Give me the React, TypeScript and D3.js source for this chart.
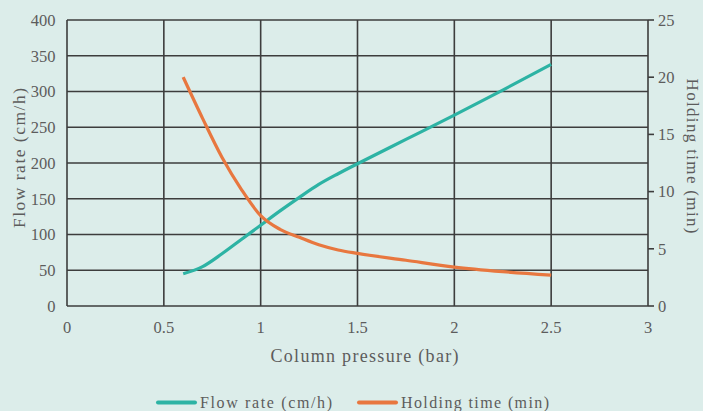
import React from "react";
import * as d3 from "d3";

// Column pressure (bar) at which each measurement was taken
const pressure = [0.6, 0.7, 0.8, 0.9, 1.0, 1.1, 1.2, 1.3, 1.4, 1.5, 1.75, 2.0, 2.25, 2.5];
// Flow rate (cm/h)
const flowRate = [45, 55, 73, 93, 113, 133, 152, 170, 185, 199, 233, 267, 302, 338];
// Holding time (min)
const holdingTime = [20, 16.4, 13, 10.2, 7.9, 6.7, 6.0, 5.35, 4.9, 4.6, 4.0, 3.4, 3.0, 2.7];

const xTicks = [0, 0.5, 1, 1.5, 2, 2.5, 3];
const leftTicks = [0, 50, 100, 150, 200, 250, 300, 350, 400];
const rightTicks = [0, 5, 10, 15, 20, 25];

const W = 703;
const H = 411;
const M = { left: 67, right: 648, top: 20, bottom: 306 };

const BG = "#dcedea";
const GRID = "#3d3d3d";
const TEXT = "#5c5c5c";
const TEAL = "#2db3a4";
const ORANGE = "#e8773f";
const NUM_FONT = "Liberation Serif";
const LABEL_FONT = "Liberation Serif";

export default function App() {
  const x = d3.scaleLinear().domain([0, 3]).range([M.left, M.right]);
  const yL = d3.scaleLinear().domain([0, 400]).range([M.bottom, M.top]);
  const yR = d3.scaleLinear().domain([0, 25]).range([M.bottom, M.top]);

  const flowLine = d3
    .line<number>()
    .x((_, i) => x(pressure[i]))
    .y((d) => yL(d))
    .curve(d3.curveMonotoneX);
  const holdLine = d3
    .line<number>()
    .x((_, i) => x(pressure[i]))
    .y((d) => yR(d))
    .curve(d3.curveMonotoneX);

  return (
    <svg
      width={W}
      height={H}
      style={{ position: "absolute", left: 0, top: 0, display: "block" }}
    >
      <rect x={0} y={0} width={W} height={H} fill={BG} />

      {/* horizontal grid */}
      {leftTicks.map((t) => (
        <line
          key={"h" + t}
          x1={M.left}
          x2={M.right}
          y1={yL(t)}
          y2={yL(t)}
          stroke={GRID}
          strokeWidth={1.6}
        />
      ))}
      {/* vertical grid */}
      {xTicks.map((t) => (
        <line
          key={"v" + t}
          x1={x(t)}
          x2={x(t)}
          y1={M.top}
          y2={M.bottom}
          stroke={GRID}
          strokeWidth={1.6}
        />
      ))}
      {/* right axis tick marks */}
      {rightTicks.map((t) => (
        <line
          key={"rt" + t}
          x1={M.right}
          x2={M.right + 6}
          y1={yR(t)}
          y2={yR(t)}
          stroke={GRID}
          strokeWidth={1.6}
        />
      ))}

      {/* left tick labels */}
      {leftTicks.map((t) => (
        <text
          key={"lt" + t}
          x={55.5}
          y={yL(t)}
          dy="0.35em"
          textAnchor="end"
          style={{ fontFamily: NUM_FONT }}
          fontSize={16.5}
          fill={TEXT}
        >
          {t}
        </text>
      ))}
      {/* right tick labels */}
      {rightTicks.map((t) => (
        <text
          key={"rl" + t}
          x={658}
          y={yR(t)}
          dy="0.35em"
          textAnchor="start"
          style={{ fontFamily: NUM_FONT }}
          fontSize={16.5}
          fill={TEXT}
        >
          {t}
        </text>
      ))}
      {/* bottom tick labels */}
      {xTicks.map((t) => (
        <text
          key={"xl" + t}
          x={x(t)}
          y={327}
          dy="0.35em"
          textAnchor="middle"
          style={{ fontFamily: NUM_FONT }}
          fontSize={16.5}
          fill={TEXT}
        >
          {t}
        </text>
      ))}

      {/* axis titles */}
      <text
        x={364.5}
        y={356}
        dy="0.35em"
        textAnchor="middle"
        style={{ fontFamily: LABEL_FONT }}
        fontSize={18}
        fill={TEXT}
        textLength={188}
        lengthAdjust="spacing"
      >
        Column pressure (bar)
      </text>
      <text
        transform="translate(18.5,158) rotate(-90)"
        dy="0.35em"
        textAnchor="middle"
        style={{ fontFamily: LABEL_FONT }}
        fontSize={17.5}
        fill={TEXT}
        textLength={140}
        lengthAdjust="spacing"
      >
        Flow rate (cm/h)
      </text>
      <text
        transform="translate(693,156) rotate(90)"
        dy="0.35em"
        textAnchor="middle"
        style={{ fontFamily: LABEL_FONT }}
        fontSize={17}
        fill={TEXT}
        textLength={155}
        lengthAdjust="spacing"
      >
        Holding time (min)
      </text>

      {/* series */}
      <path d={flowLine(flowRate) || ""} fill="none" stroke={TEAL} strokeWidth={3.2} />
      <path d={holdLine(holdingTime) || ""} fill="none" stroke={ORANGE} strokeWidth={3.2} />

      {/* legend */}
      <line x1={158} x2={195} y1={402.5} y2={402.5} stroke={TEAL} strokeWidth={4} strokeLinecap="round" />
      <text
        x={200}
        y={402}
        dy="0.35em"
        style={{ fontFamily: LABEL_FONT }}
        fontSize={16}
        fill={TEXT}
        textLength={132}
        lengthAdjust="spacing"
      >
        Flow rate (cm/h)
      </text>
      <line x1={359} x2={396} y1={402.5} y2={402.5} stroke={ORANGE} strokeWidth={4} strokeLinecap="round" />
      <text
        x={401}
        y={402}
        dy="0.35em"
        style={{ fontFamily: LABEL_FONT }}
        fontSize={16}
        fill={TEXT}
        textLength={148}
        lengthAdjust="spacing"
      >
        Holding time (min)
      </text>
    </svg>
  );
}
